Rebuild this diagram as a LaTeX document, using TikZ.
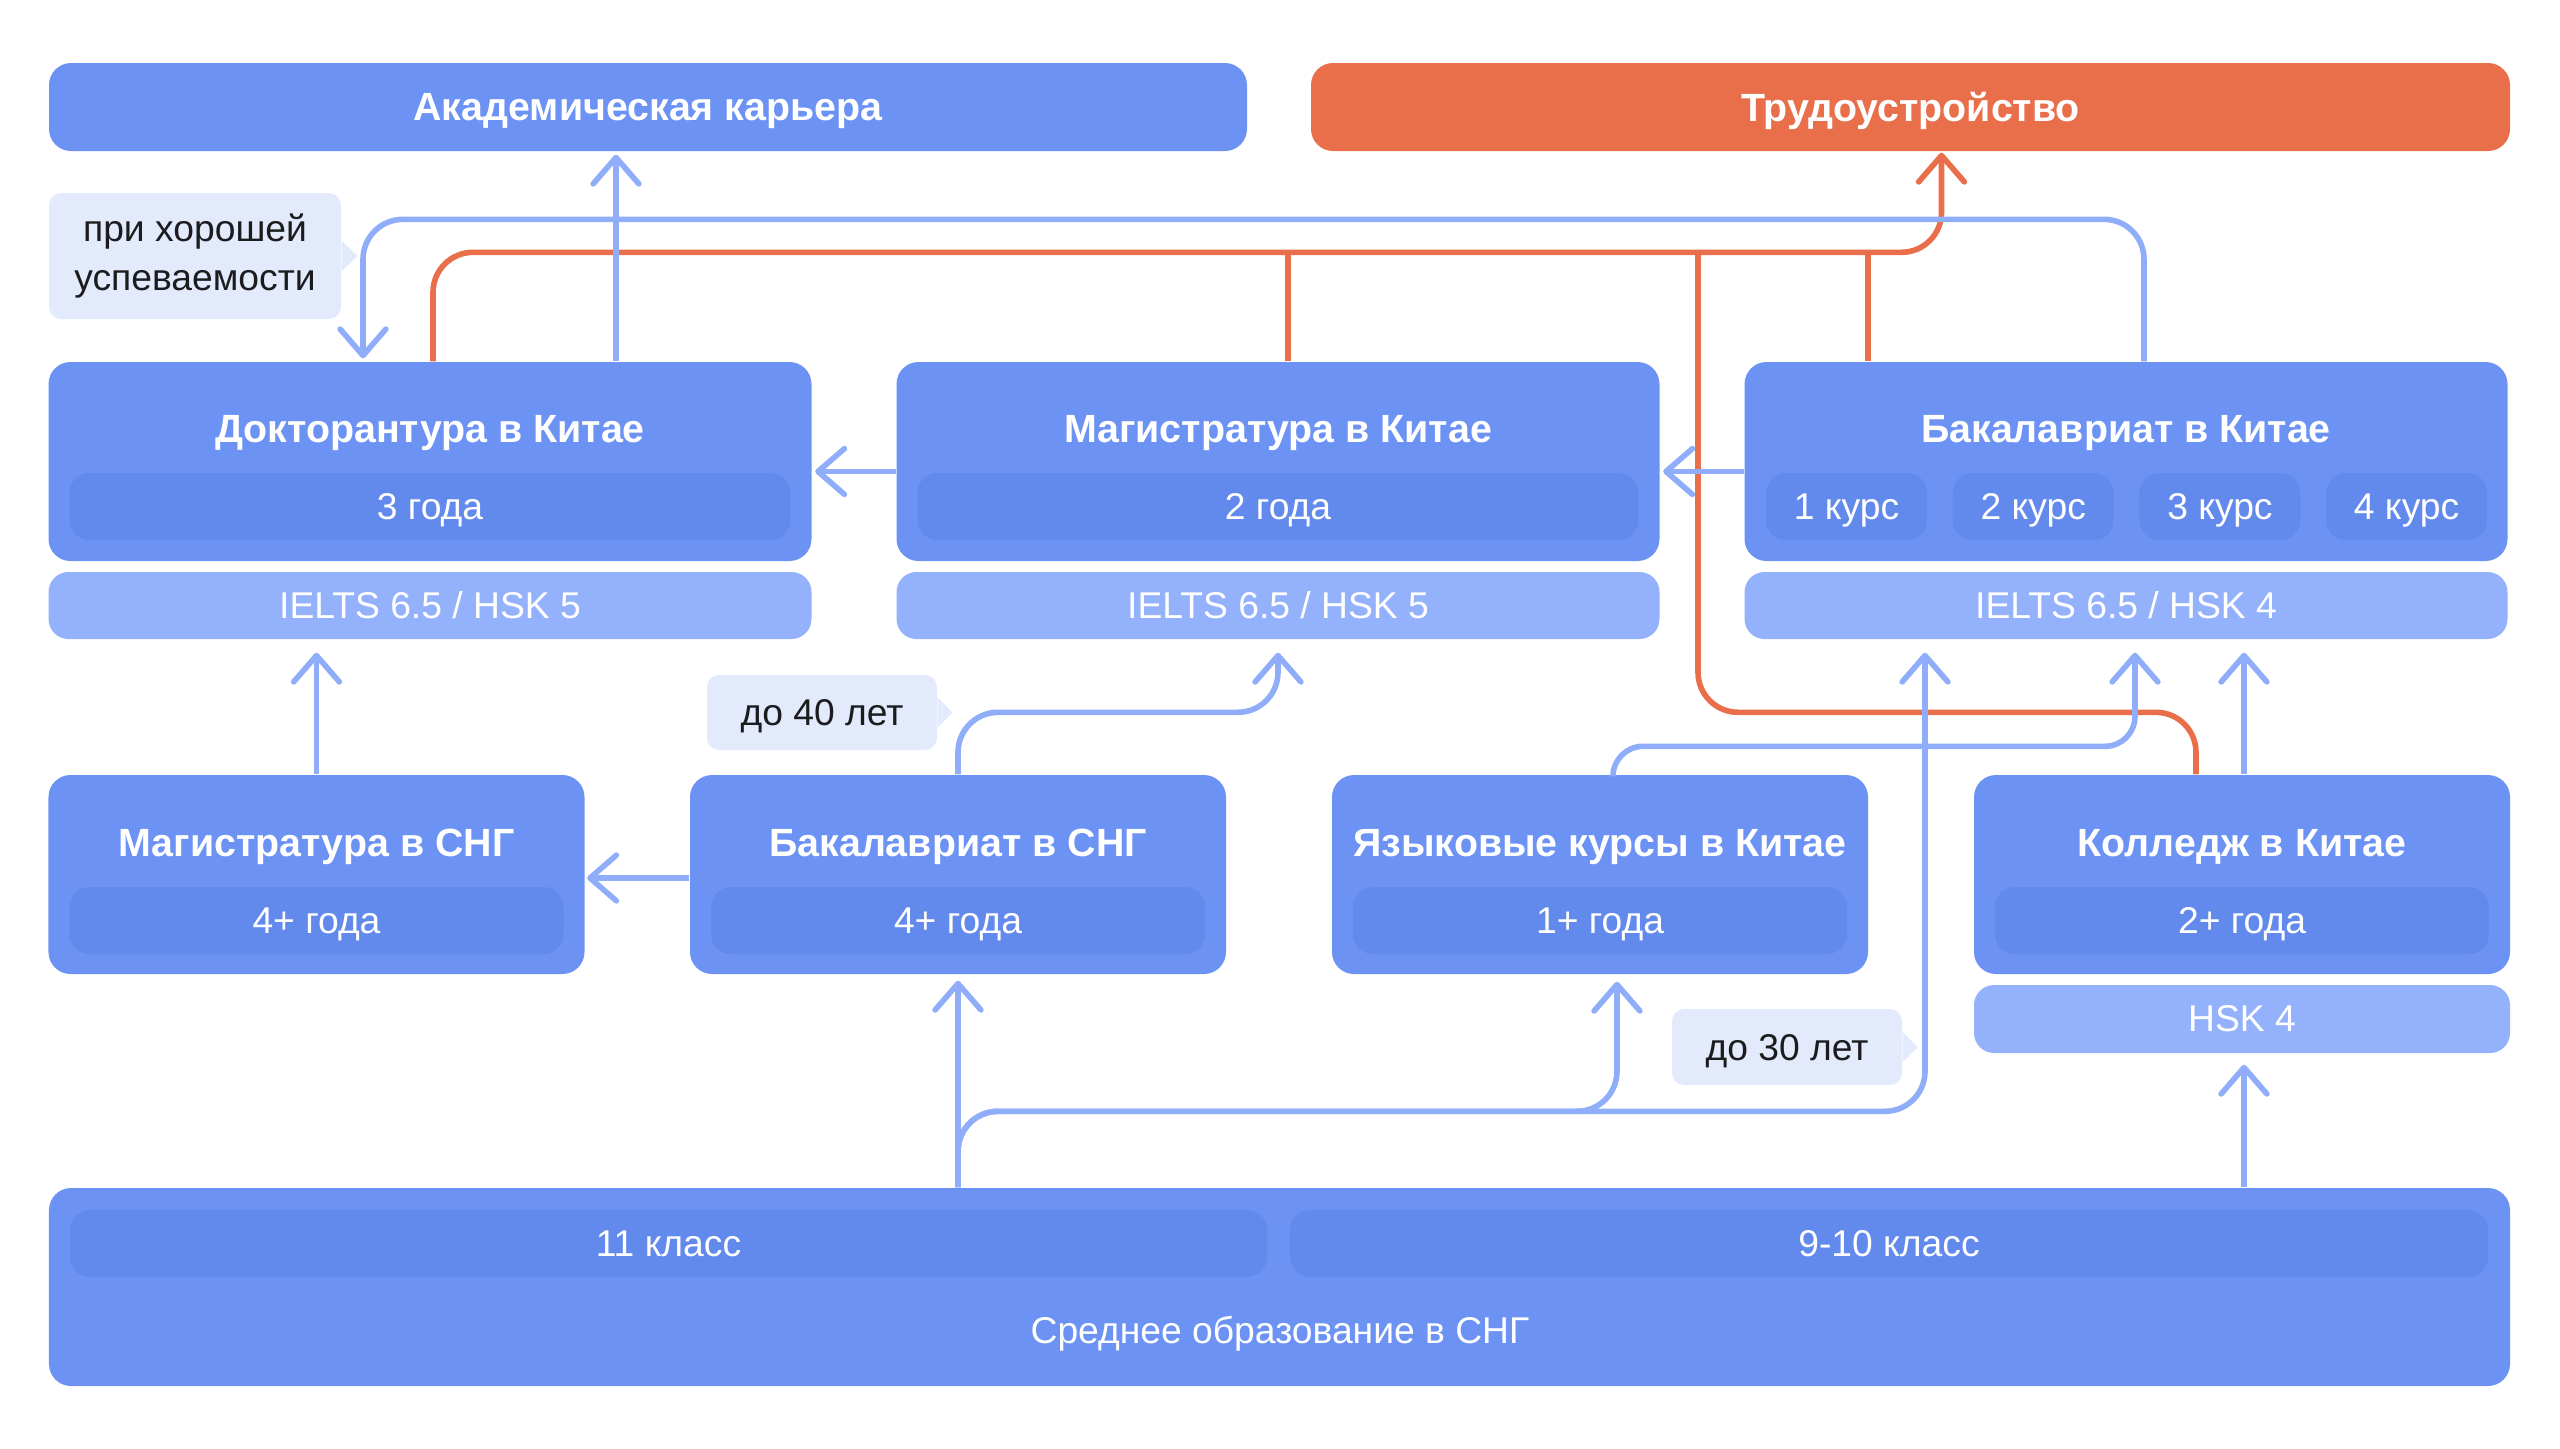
\documentclass[tikz,border=0pt]{standalone}
\usepackage{fontspec}
\setmainfont{Liberation Sans}
\usetikzlibrary{arrows.meta}
\definecolor{boxblue}{HTML}{6C92F4}
\definecolor{subblue}{HTML}{6289EC}
\definecolor{reqblue}{HTML}{94B2FC}
\definecolor{linkblue}{HTML}{8FADF9}
\definecolor{notefill}{HTML}{E3EAFC}
\definecolor{jobred}{HTML}{E96E4A}
\definecolor{notetext}{HTML}{1C1C1E}

\begin{document}
\begin{tikzpicture}[
  box/.style={fill=boxblue,rounded corners=0.22cm,inner sep=0pt,text depth=0pt,text=white,font=\fontsize{11.2}{13}\selectfont\bfseries},
  subbox/.style={fill=subblue,rounded corners=0.2cm,inner sep=0pt,minimum height=0.67cm,text depth=0pt,text=white,font=\fontsize{10.6}{12}\selectfont},
  reqbox/.style={fill=reqblue,rounded corners=0.2cm,inner sep=0pt,minimum height=0.67cm,text=white,font=\fontsize{10.6}{12}\selectfont},
  boxtitle/.style={text depth=0pt,text=white,font=\fontsize{11.2}{13}\selectfont\bfseries},
  note/.style={fill=notefill,rounded corners=0.12cm,inner sep=0pt,text=notetext,align=center,font=\fontsize{10.6}{14}\selectfont},
  link/.style={draw=linkblue,line width=1.6pt,rounded corners=0.4cm},
  joblink/.style={draw=jobred,line width=1.6pt,rounded corners=0.4cm},
  tip/.style={-{Straight Barb[length=7.5pt,width=13pt,round]}}
]
\useasboundingbox (0,0) rectangle (25.6,-14.48);

\node[box,minimum width=11.98cm,minimum height=0.88cm] (acad) at (6.48,-1.07) {Академическая карьера};
\node[box,fill=jobred,minimum width=11.99cm,minimum height=0.88cm] (trud) at (19.105,-1.07) {Трудоустройство};

\node[box,minimum width=7.63cm,minimum height=1.99cm] (doct) at (4.30,-4.615) {};
\node[boxtitle] (doctT) at (4.30,-4.29) {Докторантура в Китае};
\node[subbox,minimum width=7.21cm] (doctS) at (4.30,-5.065) {3 года};
\node[reqbox,minimum width=7.63cm] (doctreq) at (4.30,-6.055) {IELTS 6.5 / HSK 5};

\node[box,minimum width=7.63cm,minimum height=1.99cm] (mag) at (12.78,-4.615) {};
\node[boxtitle] (magT) at (12.78,-4.29) {Магистратура в Китае};
\node[subbox,minimum width=7.21cm] (magS) at (12.78,-5.065) {2 года};
\node[reqbox,minimum width=7.63cm] (magreq) at (12.78,-6.055) {IELTS 6.5 / HSK 5};

\node[box,minimum width=7.63cm,minimum height=1.99cm] (bach) at (21.26,-4.615) {};
\node[boxtitle] (bachT) at (21.26,-4.29) {Бакалавриат в Китае};
\node[subbox,minimum width=1.61cm] (kurs1) at (18.465,-5.065) {1 курс};
\node[subbox,minimum width=1.61cm] (kurs2) at (20.332,-5.065) {2 курс};
\node[subbox,minimum width=1.61cm] (kurs3) at (22.199,-5.065) {3 курс};
\node[subbox,minimum width=1.61cm] (kurs4) at (24.066,-5.065) {4 курс};
\node[reqbox,minimum width=7.63cm] (bachreq) at (21.26,-6.055) {IELTS 6.5 / HSK 4};

\node[box,minimum width=5.36cm,minimum height=1.99cm] (magcis) at (3.165,-8.745) {};
\node[boxtitle] (magcisT) at (3.165,-8.43) {Магистратура в СНГ};
\node[subbox,minimum width=4.94cm] (magcisS) at (3.165,-9.205) {4+ года};

\node[box,minimum width=5.36cm,minimum height=1.99cm] (bachcis) at (9.58,-8.745) {};
\node[boxtitle] (bachcisT) at (9.58,-8.43) {Бакалавриат в СНГ};
\node[subbox,minimum width=4.94cm] (bachcisS) at (9.58,-9.205) {4+ года};

\node[box,minimum width=5.36cm,minimum height=1.99cm] (lang) at (16.00,-8.745) {};
\node[boxtitle] (langT) at (16.00,-8.43) {Языковые курсы в Китае};
\node[subbox,minimum width=4.94cm] (langS) at (16.00,-9.205) {1+ года};

\node[box,minimum width=5.36cm,minimum height=1.99cm] (college) at (22.42,-8.745) {};
\node[boxtitle] (collegeT) at (22.42,-8.43) {Колледж в Китае};
\node[subbox,minimum width=4.94cm] (collegeS) at (22.42,-9.205) {2+ года};
\node[reqbox,minimum width=5.36cm,minimum height=0.68cm] (collegereq) at (22.42,-10.19) {HSK 4};

\node[box,minimum width=24.61cm,minimum height=1.98cm] (sec) at (12.795,-12.87) {};
\node[subbox,minimum width=11.97cm] (grade11) at (6.685,-12.435) {11 класс};
\node[subbox,minimum width=11.98cm] (grade9) at (18.89,-12.435) {9-10 класс};
\node[text=white,font=\fontsize{10.6}{12}\selectfont] (secT) at (12.80,-13.34) {Среднее образование в СНГ};

\node[note,minimum width=2.92cm,minimum height=1.26cm] (note1) at (1.95,-2.56) {при хорошей\\успеваемости};
\fill[notefill] ([yshift=0.15cm]note1.east) -- ++(0.16,-0.15) -- ([yshift=-0.15cm]note1.east) -- cycle;
\node[note,text depth=0pt,minimum width=2.30cm,minimum height=0.75cm] (note2) at (8.22,-7.125) {до 40 лет};
\fill[notefill] ([yshift=0.15cm]note2.east) -- ++(0.15,-0.15) -- ([yshift=-0.15cm]note2.east) -- cycle;
\node[note,text depth=0pt,minimum width=2.30cm,minimum height=0.76cm] (note3) at (17.87,-10.47) {до 30 лет};
\fill[notefill] ([yshift=0.15cm]note3.east) -- ++(0.15,-0.15) -- ([yshift=-0.15cm]note3.east) -- cycle;

\coordinate (jobbus) at (16.98,-2.53);

\draw[joblink,tip,shorten >=0.01cm] ([xshift=0.03cm]doct.north) -- ++(0,1.09) -| ([xshift=0.31cm]trud.south);
\draw[joblink] ([xshift=0.1cm]mag.north) -- ++(0,1.09);
\draw[joblink] ([xshift=-2.58cm]bach.north) -- ++(0,1.09);
\draw[joblink] ([xshift=-0.46cm]college.north) -- ++(0,0.62) -| (jobbus);

\draw[link,tip,shorten >=0.03cm] ([xshift=1.86cm]doct.north) -- ([xshift=1.86cm]doct.north |- acad.south);
\draw[link,tip,shorten >=0.03cm] ([xshift=0.18cm]bach.north) -- ++(0,1.42) -| ([xshift=-0.67cm]doct.north);
\draw[link,tip,shorten >=0.03cm] ([yshift=-0.1cm]mag.west) -- ([yshift=-0.1cm]doct.east);
\draw[link,tip,shorten >=0.03cm] ([yshift=-0.1cm]bach.west) -- ([yshift=-0.1cm]mag.east);

\draw[link,tip,shorten >=0.13cm] (magcis.north) -- (magcis.north |- doctreq.south);
\draw[link,tip,shorten >=0.13cm] (bachcis.north) -- ++(0,0.62) -| (magreq.south);
\draw[link,tip,shorten >=0.02cm] ([yshift=-0.035cm]bachcis.west) -- ([yshift=-0.035cm]magcis.east);
\draw[link,tip,shorten >=0.13cm,rounded corners=0.3cm] ([xshift=0.13cm]lang.north) -- ++(0,0.28) -| ([xshift=0.09cm]bachreq.south);
\draw[link,tip,shorten >=0.13cm] ([xshift=0.02cm]college.north) -- ([xshift=0.02cm]college.north |- bachreq.south);

\draw[link,tip,shorten >=0.06cm] (bachcis.south |- sec.north) -- (bachcis.south);
\draw[link,tip,shorten >=0.07cm] (bachcis.south |- sec.north) -- ++(0,0.76) -| ([xshift=0.17cm]lang.south);
\draw[link,tip,shorten >=0.13cm] (bachcis.south |- sec.north) -- ++(0,0.76) -| ([xshift=-2.01cm]bachreq.south);
\draw[link,tip,shorten >=0.11cm] ([xshift=0.02cm]college.south |- sec.north) -- ([xshift=0.02cm]collegereq.south);
\end{tikzpicture}
\end{document}
